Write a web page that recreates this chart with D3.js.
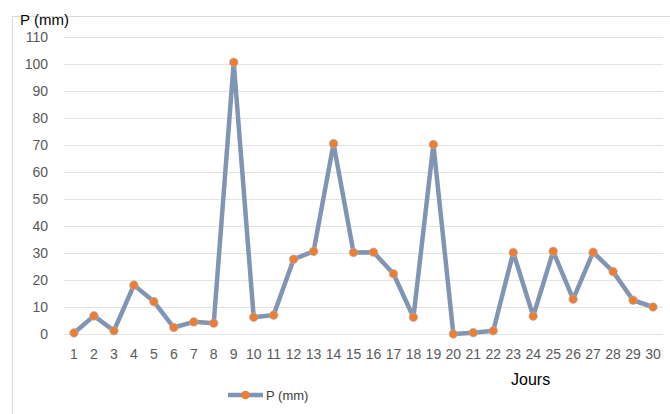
<!DOCTYPE html>
<html>
<head>
<meta charset="utf-8">
<script src="https://cdn.jsdelivr.net/npm/d3@7"></script>
<style>
  body { margin: 0; background: #fff; }
  svg { font-family: "Liberation Sans", "DejaVu Sans", sans-serif; }
</style>
</head>
<body>
<div id="chart"></div>
<script>
// rainfall per day (mm)
const days = d3.range(1, 31);
const rain = [0.4, 6.7, 1.2, 18.1, 12, 2.4, 4.5, 4, 100.6, 6.2,
              7, 27.7, 30.6, 70.5, 30.2, 30.3, 22.3, 6.2, 70.2, 0,
              0.5, 1.2, 30.2, 6.6, 30.6, 12.9, 30.3, 23.1, 12.5, 10];
const yTicks = [0, 10, 20, 30, 40, 50, 60, 70, 80, 90, 100, 110];

const width = 670,
    height = 414,
    margin = ({top: 37, right: 7, bottom: 80, left: 64});

const svg = d3.select("#chart")
    .append("svg")
    .attr("width", width)
    .attr("height", height);

// chart frame
svg.append("rect")
    .attr("x", 12.5).attr("y", 16.5)
    .attr("width", 700).attr("height", 450)
    .attr("fill", "none")
    .attr("stroke", "#d9d9d9");

const x = d3.scaleBand()
    .domain(days)
    .range([margin.left, width - margin.right]);

const y = d3.scaleLinear()
    .domain([0, 110])
    .range([height - margin.bottom, margin.top]);

// grid
svg.append("g")
    .selectAll("line")
    .data(yTicks)
    .join("line")
    .attr("x1", margin.left)
    .attr("x2", width - margin.right)
    .attr("y1", d => y(d) + 0.5)
    .attr("y2", d => y(d) + 0.5)
    .attr("stroke", "#e3e3e3")
    .attr("stroke-width", 1.2);

const yAxis = g => g
    .attr("transform", `translate(${margin.left - 16},0)`)
    .call(d3.axisLeft(y).tickValues(yTicks).tickSize(0).tickPadding(0))
    .call(g => g.select(".domain").remove());

const xAxis = g => g
    .attr("transform", `translate(0,${height - margin.bottom + 15})`)
    .call(d3.axisBottom(x).tickSize(0).tickPadding(0))
    .call(g => g.select(".domain").remove());

svg.append("g").call(yAxis)
    .selectAll("text")
    .attr("font-size", 14)
    .attr("fill", "#595959")
    .attr("font-family", "Liberation Sans, sans-serif");

svg.append("g").call(xAxis)
    .selectAll("text")
    .attr("font-size", 14)
    .attr("fill", "#595959")
    .attr("font-family", "Liberation Sans, sans-serif");

// axis titles
svg.append("text")
    .attr("x", 20).attr("y", 25)
    .attr("font-size", 15)
    .attr("fill", "#000")
    .text("P (mm)");

svg.append("text")
    .attr("x", 511).attr("y", 385)
    .attr("font-size", 16)
    .attr("fill", "#000")
    .text("Jours");

const lineColor = "#8095b3",
    dotColor = "#ed7d31";

const line = d3.line()
    .x((d, i) => x(days[i]) + x.bandwidth() / 2)
    .y(d => y(d));

svg.append("path")
    .attr("d", line(rain))
    .attr("fill", "none")
    .attr("stroke", lineColor)
    .attr("stroke-width", 4.5)
    .attr("stroke-linejoin", "round");

svg.append("g")
    .selectAll("circle")
    .data(rain)
    .join("circle")
    .attr("cx", (d, i) => x(days[i]) + x.bandwidth() / 2)
    .attr("cy", d => y(d))
    .attr("r", 4.3)
    .attr("fill", dotColor)
    .attr("stroke", "#a9b7cc")
    .attr("stroke-width", 0.6);

// legend
const legend = svg.append("g").attr("transform", "translate(228,395)");
legend.append("line")
    .attr("x1", 0).attr("x2", 35)
    .attr("stroke", lineColor)
    .attr("stroke-width", 4.5);
legend.append("circle")
    .attr("cx", 17.5).attr("r", 4.3)
    .attr("fill", dotColor);
legend.append("text")
    .attr("x", 38).attr("y", 5)
    .attr("font-size", 13)
    .attr("fill", "#404040")
    .text("P (mm)");
</script>
</body>
</html>
